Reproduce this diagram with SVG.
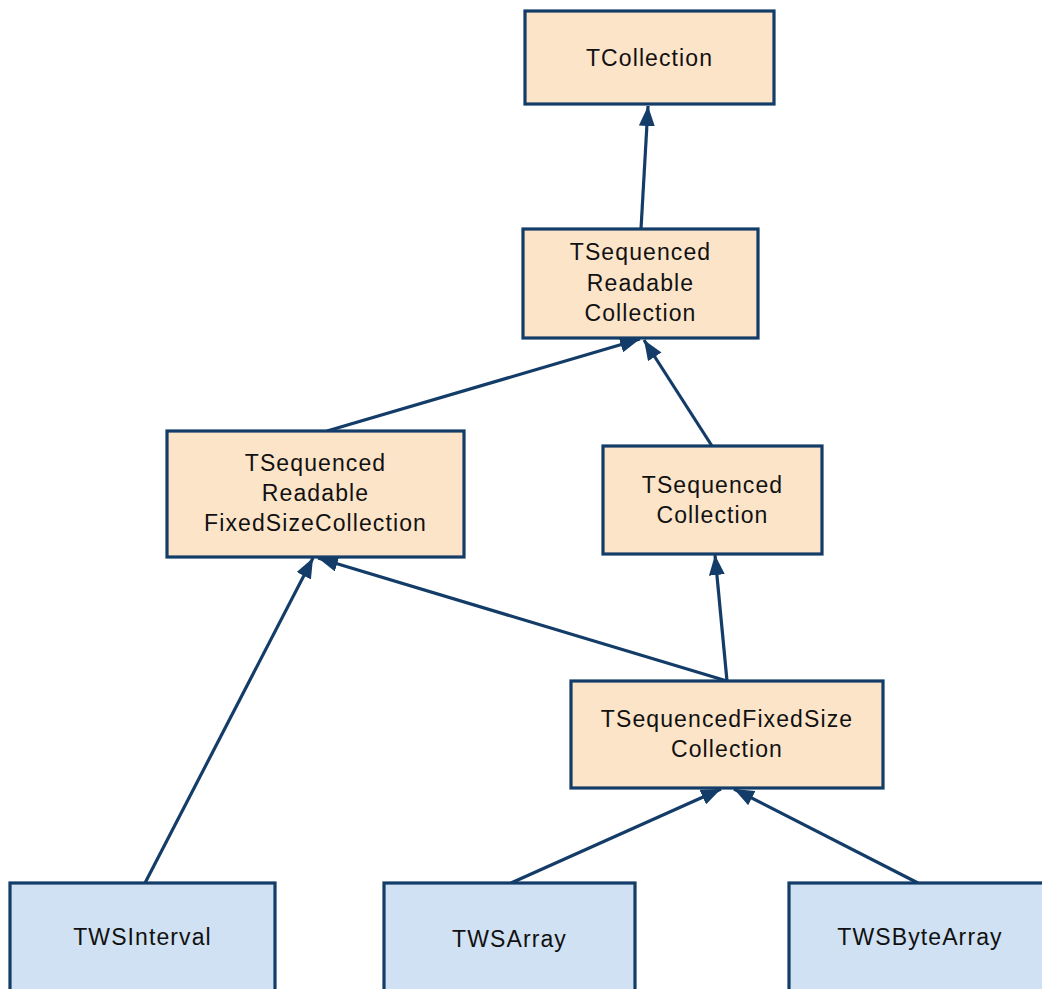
<svg xmlns="http://www.w3.org/2000/svg" width="1042" height="989" viewBox="0 0 1042 989">
  <style>
    .bg { fill: #ffffff; }
    .base rect { fill: #fce4c9; stroke: #133c68; stroke-width: 3.2; }
    .leaf rect { fill: #cfe1f3; stroke: #133c68; stroke-width: 3.2; }
    text { font-family: "Liberation Sans", Arial, sans-serif; font-size: 23px; fill: #111111; text-anchor: middle; letter-spacing: 1.1px; }
    .edge { stroke: #133c68; stroke-width: 3.2; fill: none; marker-end: url(#arrow); }
  </style>
  <defs>
    <marker id="arrow" viewBox="0 0 20 16" refX="20" refY="8" markerWidth="20" markerHeight="16" markerUnits="userSpaceOnUse" orient="auto">
      <path d="M0,0 L20,8 L0,16 z" fill="#133c68"/>
    </marker>
  </defs>
  <rect class="bg" x="0" y="0" width="1042" height="989"/>

  <g id="connectors">
    <line class="edge" x1="641" y1="229" x2="648" y2="106"/>
    <line class="edge" x1="327" y1="431" x2="640" y2="339"/>
    <line class="edge" x1="712" y1="446" x2="644" y2="340"/>
    <line class="edge" x1="145" y1="883" x2="313" y2="558"/>
    <line class="edge" x1="727" y1="681" x2="318" y2="558"/>
    <line class="edge" x1="727" y1="681" x2="715" y2="555"/>
    <line class="edge" x1="511" y1="883" x2="721" y2="789"/>
    <line class="edge" x1="918" y1="883" x2="734" y2="789"/>
  </g>

  <g id="TCollection" class="base">
    <rect x="525" y="11" width="249" height="93"/>
    <text x="649.5" y="66">TCollection</text>
  </g>

  <g id="TSequencedReadableCollection" class="base">
    <rect x="523" y="229" width="235" height="109"/>
    <text x="640.5" y="260">TSequenced</text>
    <text x="640.5" y="291">Readable</text>
    <text x="640.5" y="321">Collection</text>
  </g>

  <g id="TSequencedReadableFixedSizeCollection" class="base">
    <rect x="167" y="431" width="297" height="126"/>
    <text x="315.5" y="471">TSequenced</text>
    <text x="315.5" y="501">Readable</text>
    <text x="315.5" y="531">FixedSizeCollection</text>
  </g>

  <g id="TSequencedCollection" class="base">
    <rect x="603" y="446" width="219" height="108"/>
    <text x="712.5" y="493">TSequenced</text>
    <text x="712.5" y="523">Collection</text>
  </g>

  <g id="TSequencedFixedSizeCollection" class="base">
    <rect x="571" y="681" width="312" height="107"/>
    <text x="727" y="727">TSequencedFixedSize</text>
    <text x="727" y="757">Collection</text>
  </g>

  <g id="TWSInterval" class="leaf">
    <rect x="10" y="883" width="265" height="120"/>
    <text x="142.5" y="945">TWSInterval</text>
  </g>

  <g id="TWSArray" class="leaf">
    <rect x="384" y="883" width="251" height="120"/>
    <text x="509.5" y="947">TWSArray</text>
  </g>

  <g id="TWSByteArray" class="leaf">
    <rect x="789" y="883" width="270" height="120"/>
    <text x="920" y="945">TWSByteArray</text>
  </g>
</svg>
